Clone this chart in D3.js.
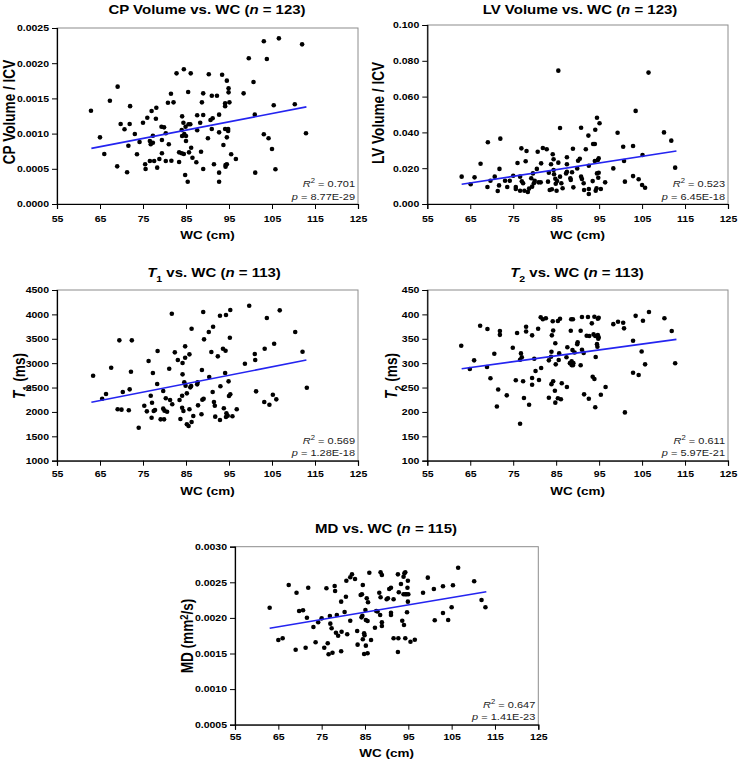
<!DOCTYPE html>
<html><head><meta charset="utf-8">
<script src="https://cdn.jsdelivr.net/npm/d3@7"></script>
<style>body{margin:0;background:#fff;} svg{display:block;font-family:Arial,"Liberation Sans",sans-serif;}</style>
</head><body><svg id="c" width="738" height="762"></svg>
<script>
// ---------- DATA ----------
const xTicks = [55, 65, 75, 85, 95, 105, 115, 125];
const cpTicks = [0, 0.0005, 0.0010, 0.0015, 0.0020, 0.0025];
const lvTicks = [0, 0.02, 0.04, 0.06, 0.08, 0.10];
const t1Ticks = [1000, 1500, 2000, 2500, 3000, 3500, 4000, 4500];
const t2Ticks = [100, 150, 200, 250, 300, 350, 400, 450];
const mdTicks = [0.0005, 0.0010, 0.0015, 0.0020, 0.0025, 0.0030];

const fitX = [63, 113];
const cpFitY = [0.00079, 0.00138];
const lvFitY = [0.0110, 0.0296];
const t1FitY = [2197, 3064];
const t2FitY = [288.6, 348.8];
const mdFitY = [0.001854, 0.002368];

const rSquared = ["0.701", "0.523", "0.569", "0.611", "0.647"];
const pValues = ["8.77E-29", "6.45E-18", "1.28E-18", "5.97E-21", "1.41E-23"];
const nValues = [123, 123, 113, 113, 115];

const cpData = [[62.9,0.001325],[67.3,0.001467],[69.1,0.001667],[72.0,0.00139],[76.0,0.001226],[77.0,0.00132],[78.1,0.001368],[78.0,0.001212],[80.8,0.001439],[81.5,0.001567],[82.1,0.001444],[82.8,0.001856],[84.1,0.001245],[84.5,0.001913],[85.5,0.00159],[86.1,0.001856],[87.6,0.00126],[88.7,0.001444],[89.0,0.001572],[89.0,0.001264],[90.3,0.001842],[90.7,0.001193],[91.2,0.001217],[91.0,0.001538],[92.2,0.001538],[92.7,0.001269],[93.4,0.001837],[94.1,0.00143],[94.1,0.00139],[94.5,0.001752],[94.9,0.001643],[94.9,0.001586],[95.1,0.001444],[98.4,0.001572],[99.6,0.00207],[100.7,0.001733],[101.0,0.001269],[103.1,0.002311],[103.8,0.00206],[105.4,0.001402],[106.6,0.002353],[110.3,0.001416],[112.0,0.002268],
[65.0,0.000947],[66.0,0.00071],[69.8,0.001136],[70.7,0.001061],[71.9,0.001136],[73.1,0.000994],[71.6,0.000828],[73.6,0.000706],[74.2,0.000881],[75.0,0.001155],[75.5,0.000564],[75.6,0.000497],[69.0,0.000535],[71.3,0.00045],[76.6,0.000895],[76.8,0.000848],[76.6,0.00061],[77.6,0.00061],[77.3,0.00097],[77.3,0.000871],[78.3,0.000516],[78.8,0.000639],[79.4,0.00072],[79.3,0.001098],[79.9,0.001089],[80.3,0.001004],[79.4,0.000909],[80.3,0.00061],[81.0,0.000848],[81.6,0.000615],[83.4,0.000597],[83.4,0.000734],[84.0,0.00072],[84.5,0.00071],[84.1,0.000966],[84.0,0.001051],[84.6,0.000994],[85.0,0.000966],[85.0,0.000895],[84.8,0.000412],[85.4,0.000317],[84.4,0.001155],[84.9,0.001098],[85.6,0.001132],[86.0,0.001132],[85.7,0.000734],[86.2,0.0008],[86.5,0.000658],[87.4,0.000592],[87.6,0.001047],[88.5,0.000743],[88.3,0.001155],[89.0,0.000497],[90.1,0.000933],[91.0,0.001065],[91.5,0.000564],[92.7,0.001018],[92.7,0.000445],[92.7,0.000317],[93.7,0.000838],[94.2,0.000554],[94.2,0.00053],[94.5,0.000564],[94.5,0.000947],[94.1,0.001065],[94.8,0.001065],[94.8,0.001037],[95.5,0.000706],[96.6,0.000639],[101.1,0.000445],[103.1,0.00099],[104.2,0.000933],[105.0,0.000781],[105.8,0.000493],[112.9,0.001004]];

const lvData = [[85.5,0.0745],[106.5,0.0734],[94.5,0.0482],[103.5,0.052],[95.1,0.0451],
[63.0,0.01527],[65.1,0.011],[66.0,0.0149],[67.4,0.0225],[69.1,0.0345],[69.0,0.0095],[69.7,0.013],[70.7,0.01527],[71.4,0.00726],[71.7,0.0104],[71.8,0.0196],[72.0,0.0365],[73.1,0.013],[73.6,0.0095],[74.2,0.013],[75.0,0.0158],[75.6,0.0095],[75.6,0.0084],[76.0,0.0229],[76.6,0.01527],[76.6,0.0074],[76.9,0.0311],[77.0,0.0127],[77.3,0.0116],[77.6,0.0074],[77.9,0.0239],[78.1,0.0296],[78.4,0.0067],[78.7,0.0086],[79.2,0.0144],[79.4,0.0097],[79.6,0.0171],[79.8,0.0116],[80.0,0.013],[80.5,0.0196],[80.7,0.0292],[80.9,0.0121],[81.4,0.0121],[81.5,0.0227],[81.9,0.0313],[82.8,0.0306],[83.1,0.0125],[83.3,0.0175],[83.5,0.0078],[83.8,0.0222],[84.0,0.0082],[84.2,0.0278],[84.4,0.025],[84.4,0.019],[84.5,0.0166],[84.8,0.0141],[84.9,0.0113],[85.1,0.0074],[85.2,0.0128],[85.5,0.0231],[85.9,0.01527],[85.9,0.0425],[86.2,0.0116],[86.5,0.0088],[87.3,0.0171],[87.5,0.018],[87.5,0.0222],[87.5,0.0261],[88.3,0.0144],[88.4,0.0134],[88.7,0.0177],[88.9,0.0309],[89.0,0.0093],[89.9,0.0199],[90.1,0.0242],[90.5,0.0253],[90.8,0.0426],[90.8,0.01527],[91.0,0.014],[91.4,0.0116],[91.5,0.0078],[91.9,0.0306],[92.5,0.0382],[92.6,0.0214],[92.6,0.0084],[92.6,0.0056],[93.5,0.0128],[93.6,0.0335],[94.0,0.0335],[94.1,0.0415],[94.0,0.024],[94.2,0.0074],[94.4,0.0088],[94.5,0.0171],[94.7,0.0246],[94.9,0.0255],[94.8,0.0147],[94.9,0.0175],[95.4,0.0084],[96.4,0.0121],[98.3,0.0199],[99.3,0.0398],[100.6,0.032],[100.8,0.024],[101.0,0.0125],[102.9,0.0324],[102.9,0.0156],[104.2,0.0138],[105.0,0.0106],[105.1,0.0274],[105.7,0.0091],[110.1,0.04],[111.8,0.0354],[112.7,0.0203]];

const t1Data = [[69.5,3468],[72.4,3468],[67.6,2907],[72.2,2825],[63.4,2743],[76.3,3044],[77.3,2798],[78.4,3249],[81.1,2886],[81.7,4014],[82.4,3222],[83.1,3064],[84.2,3003],[84.8,3112],[84.8,3345],[85.8,3181],[86.3,3706],[84.2,2771],[88.7,2859],[89.0,4048],[89.2,3488],[90.3,3638],[90.9,3228],[91.3,3747],[92.4,3140],[92.9,3973],[93.6,3296],[94.2,3255],[94.3,3987],[95.3,4089],[95.2,3522],[94.1,2798],[98.7,2989],[99.7,4178],[101.0,3187],[101.1,3064],[103.3,3296],[103.8,3925],[105.5,3399],[106.8,4083],[110.4,3638],[112.1,3235],
[65.5,2271],[66.4,2367],[69.1,2054],[70.0,2047],[70.3,2408],[71.9,2463],[71.7,2033],[74.0,1677],[75.3,2128],[75.9,2012],[76.8,2333],[77.1,2189],[77.0,1881],[77.5,2019],[77.8,2040],[78.3,2572],[79.1,1848],[79.9,1848],[79.7,2429],[79.7,2067],[80.0,2026],[80.3,2279],[80.6,2005],[81.3,2245],[81.8,2156],[83.5,2245],[83.7,1855],[84.1,2333],[84.1,2087],[84.4,2019],[84.6,2606],[84.9,2538],[85.2,2381],[85.2,1746],[85.6,1712],[85.8,2054],[86.0,2504],[86.2,2531],[86.3,1794],[86.7,1917],[87.6,2565],[87.8,2135],[87.7,2606],[88.6,1951],[88.8,2251],[89.1,2271],[90.4,2716],[91.2,2408],[91.5,2203],[91.7,2128],[91.8,1903],[92.9,1835],[93.0,2525],[93.8,2074],[94.4,1972],[94.3,1896],[94.7,1923],[94.9,2627],[95.0,2326],[95.3,2361],[95.8,1910],[96.8,2054],[101.3,2422],[103.2,2203],[104.4,2148],[105.2,2353],[106.0,2258],[113.1,2497]];

const t2Data = [[62.9,335.8],[64.9,288],[65.9,305.8],[67.3,376.8],[69.0,370],[68.9,292],[70.6,319.4],[71.9,366],[71.9,358],[74.9,331.7],[75.9,361.8],[76.8,320],[77.0,312],[76.6,307],[78.0,374.7],[78.0,365],[79.4,357],[79.9,309],[80.8,370.6],[80.2,284],[81.5,290],[81.4,394],[81.9,390],[82.6,392],[83.3,305.8],[83.9,323.5],[83.8,313],[84.0,357],[84.3,367],[84.2,385.8],[84.8,340.7],[84.9,297.6],[85.4,386.4],[85.9,391],[85.6,306.4],[85.7,320],[87.4,312],[87.6,332.5],[88.5,390],[88.9,390],[88.4,366.5],[88.2,300],[88.6,296],[88.6,304],[89.0,300],[88.9,295.6],[88.8,327],[89.3,322],[90.0,342.7],[89.9,339],[90.7,366.5],[91.0,394.6],[91.0,327.6],[91.4,321],[90.7,295.6],[92.1,356.3],[92.4,394.6],[92.7,355.6],[93.3,381.6],[93.7,359],[94.1,355.6],[93.9,395.3],[94.2,312.6],[94.5,339],[94.6,333.7],[94.9,393.2],[94.7,391],[94.7,357.7],[94.9,353],[94.8,350],[98.3,380],[99.4,385],[100.6,383],[100.8,371.4],[102.9,346],[103.5,397],[104.9,324],[105.2,387],[105.7,297.6],[106.6,405],[110.2,392],[111.9,365.8],[112.7,299.7],
[69.7,269],[71.5,246],[71.2,211],[73.5,234],[75.6,265],[77.3,263],[77.5,228.6],[76.6,175.9],[78.7,214.8],[79.4,269.6],[79.4,255.8],[81.0,265.4],[83.3,229],[83.9,257],[84.3,263],[84.7,243.5],[84.8,219],[85.4,228],[86.1,226],[86.3,258.7],[87.5,251],[91.5,236],[92.6,227],[93.5,272.2],[93.9,267.5],[94.1,209.5],[95.4,235.3],[96.5,251],[101.0,199],[102.9,280.4],[104.2,275.7]];

const mdData = [[63.0,0.002143],[67.4,0.002462],[69.2,0.002354],[69.8,0.002097],[70.7,0.002107],[71.6,0.002003],[71.9,0.002424],[73.1,0.001872],[74.2,0.001938],[75.0,0.001994],[76.1,0.002416],[76.9,0.002027],[77.0,0.001919],[77.3,0.001854],[78.0,0.002448],[78.1,0.002378],[78.3,0.001792],[78.5,0.002041],[79.5,0.002228],[79.6,0.001806],[80.3,0.002083],[80.6,0.002298],[80.9,0.00177],[80.7,0.002522],[81.6,0.00257],[82.0,0.002612],[82.7,0.002546],[81.6,0.001961],[83.2,0.001816],[84.0,0.002322],[84.3,0.002332],[84.2,0.002008],[84.4,0.002031],[84.5,0.002462],[84.8,0.001784],[85.1,0.002111],[85.2,0.00197],[85.6,0.001956],[85.4,0.002275],[85.7,0.002219],[86.0,0.002635],[87.3,0.001862],[87.6,0.002097],[87.9,0.00209],[88.6,0.00264],[88.9,0.002602],[88.3,0.002354],[88.6,0.00229],[88.5,0.002041],[88.9,0.001938],[88.9,0.001886],[90.0,0.002261],[90.3,0.002275],[90.6,0.002406],[91.0,0.002424],[91.0,0.002073],[91.0,0.002041],[91.6,0.002261],[92.6,0.002612],[92.8,0.00236],[93.3,0.002476],[93.6,0.001961],[94.0,0.0019],[93.9,0.002579],[94.1,0.002626],[94.3,0.00264],[93.9,0.002332],[94.3,0.002332],[94.6,0.002332],[95.0,0.002332],[94.9,0.002522],[94.8,0.002424],[94.9,0.002228],[94.7,0.002079],[98.4,0.002354],[99.5,0.002565],[100.9,0.002406],[101.1,0.001966],[103.0,0.002444],[103.0,0.002069],[104.2,0.00197],[105.0,0.002149],[105.3,0.002458],[106.5,0.002705],[110.2,0.002514],[111.9,0.002251],[112.8,0.002149],
[65.0,0.00169],[66.0,0.001714],[69.0,0.001553],[71.3,0.001581],[73.6,0.001657],[75.6,0.001581],[76.4,0.001643],[76.6,0.001489],[77.5,0.001511],[78.8,0.00175],[79.5,0.001531],[83.3,0.001624],[84.5,0.0017],[84.9,0.001756],[84.8,0.001493],[85.6,0.001503],[85.2,0.00161],[86.4,0.00169],[91.6,0.001714],[92.7,0.001714],[92.6,0.001521],[94.3,0.001714],[95.5,0.001666],[96.5,0.001694]];

// ---------- LAYOUT ----------
const K = 0.85; // vertical squash of glyphs (text in the source figure is horizontally stretched)
const panels = [
  {data: cpData, fit: cpFitY, yTicks: cpTicks, fmt: ".4f", x0: 57, x1: 358, top: 28, bottom: 204,
   titleX: 207, titleY: 13.5, title: [["CP Volume vs. WC (",""],["n","i"],[" = "+nValues[0]+")",""]],
   yLabX: 15, yLabY: 112, yLab: [["CP Volume / ICV",""]], xTickY: 222, xLabY: 239},
  {data: lvData, fit: lvFitY, yTicks: lvTicks, fmt: ".3f", x0: 427.3, x1: 728, top: 25, bottom: 204,
   titleX: 580, titleY: 13.5, title: [["LV Volume vs. WC (",""],["n","i"],[" = "+nValues[1]+")",""]],
   yLabX: 384, yLabY: 113, yLab: [["LV Volume / ICV",""]], xTickY: 222, xLabY: 239},
  {data: t1Data, fit: t1FitY, yTicks: t1Ticks, fmt: "d", x0: 57, x1: 358, top: 290, bottom: 460.7,
   titleX: 214, titleY: 276.5, title: [["T","i"],["1","sub"],[" vs. WC (",""],["n","i"],[" = "+nValues[2]+")",""]],
   yLabX: 25, yLabY: 376, yLab: [["T","i"],["1","sub"],[" (ms)",""]], xTickY: 477.5, xLabY: 495},
  {data: t2Data, fit: t2FitY, yTicks: t2Ticks, fmt: "d", x0: 427.3, x1: 728, top: 290, bottom: 460.7,
   titleX: 577, titleY: 276.5, title: [["T","i"],["2","sub"],[" vs. WC (",""],["n","i"],[" = "+nValues[3]+")",""]],
   yLabX: 397, yLabY: 376, yLab: [["T","i"],["2","sub"],[" (ms)",""]], xTickY: 477.5, xLabY: 495},
  {data: mdData, fit: mdFitY, yTicks: mdTicks, fmt: ".4f", x0: 235, x1: 538.3, top: 546.7, bottom: 724.7,
   titleX: 386, titleY: 532.5, title: [["MD vs. WC (",""],["n","i"],[" = "+nValues[4]+")",""]],
   yLabX: 193, yLabY: 636, yLab: [["MD (mm",""],["2","sup"],["/s)",""]], xTickY: 740.5, xLabY: 757}
];

const svg = d3.select("#c");

function richText(sel, parts) {
  parts.forEach(([t, s]) => {
    const ts = sel.append("tspan").text(t);
    if (s === "i") ts.attr("font-style", "italic");
    if (s === "sub") ts.attr("font-size", "0.7em").attr("baseline-shift", "sub");
    if (s === "sup") ts.attr("font-size", "0.7em").attr("baseline-shift", "super");
  });
}
function squashedText(g, x, y, extra) {
  return g.append("text").attr("transform", `translate(${x},${y}) scale(1,${K})${extra || ""}`);
}

panels.forEach((p, i) => {
  const yDom = [p.yTicks[0], p.yTicks[p.yTicks.length - 1]];
  const x = d3.scaleLinear().domain([xTicks[0], xTicks[xTicks.length - 1]]).range([p.x0, p.x1]);
  const y = d3.scaleLinear().domain(yDom).range([p.bottom, p.top]);
  const g = svg.append("g");

  // frame
  g.append("rect").attr("x", p.x0).attr("y", p.top).attr("width", p.x1 - p.x0).attr("height", p.bottom - p.top)
    .attr("fill", "none").attr("stroke", "#8c8c8c").attr("stroke-width", 1);

  // axes
  const ya = g.append("g").attr("transform", `translate(${p.x0},0)`)
    .call(d3.axisLeft(y).tickValues(p.yTicks).tickFormat(d3.format(p.fmt)).tickSize(5).tickPadding(3));
  const xa = g.append("g").attr("transform", `translate(0,${p.bottom})`)
    .call(d3.axisBottom(x).tickValues(xTicks).tickFormat(d3.format("d")).tickSize(5).tickPadding(5));
  [ya, xa].forEach(a => {
    a.select(".domain").attr("stroke", "#000").attr("stroke-width", 1.2);
    a.selectAll(".tick line").attr("stroke", "#000");
    a.selectAll("text").attr("font-family", "Arial, 'Liberation Sans', sans-serif")
      .attr("font-size", 10.5).attr("font-weight", "bold").attr("fill", "#000")
      .attr("transform", `scale(1,${K})`);
  });
  xa.selectAll("text").attr("dy", 0).attr("y", (p.xTickY - p.bottom) / K);

  // points
  g.append("g").selectAll("circle").data(p.data).join("circle")
    .attr("cx", d => x(d[0])).attr("cy", d => y(d[1])).attr("r", 2.3).attr("fill", "#000");

  // fit line
  g.append("line").attr("x1", x(fitX[0])).attr("y1", y(p.fit[0]))
    .attr("x2", x(fitX[1])).attr("y2", y(p.fit[1]))
    .attr("stroke", "#2424f0").attr("stroke-width", 1.6);

  // stats
  const st1 = squashedText(g, p.x1 - 3, p.bottom - 17).attr("text-anchor", "end")
    .attr("font-size", 11).attr("fill", "#222");
  richText(st1, [["R","i"],["2","sup"],[" = " + rSquared[i], ""]]);
  const st2 = squashedText(g, p.x1 - 3, p.bottom - 4.5).attr("text-anchor", "end")
    .attr("font-size", 11).attr("fill", "#222");
  richText(st2, [["p","i"],[" = " + pValues[i], ""]]);

  // title
  const t = squashedText(g, p.titleX, p.titleY).attr("text-anchor", "middle")
    .attr("font-size", 15).attr("font-weight", "bold").attr("fill", "#000");
  richText(t, p.title);

  // x label
  squashedText(g, (p.x0 + p.x1) / 2, p.xLabY).attr("text-anchor", "middle")
    .attr("font-size", 13.5).attr("font-weight", "bold").text("WC (cm)");

  // y label
  const yl = squashedText(g, p.yLabX, p.yLabY, " rotate(-90)")
    .attr("text-anchor", "middle").attr("font-size", 16).attr("font-weight", "bold");
  richText(yl, p.yLab);
});
</script>
</body></html>
